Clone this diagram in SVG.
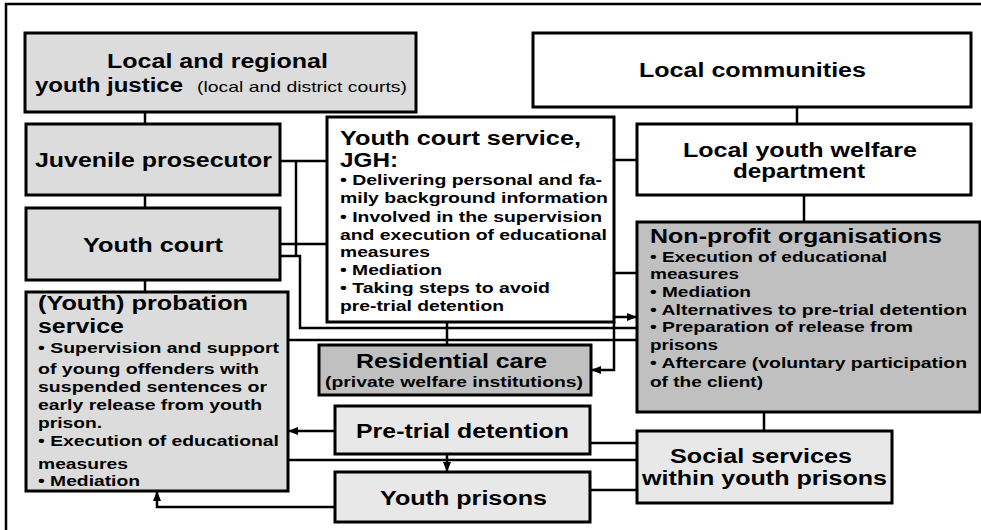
<svg xmlns="http://www.w3.org/2000/svg" width="981" height="530" viewBox="0 0 981 530">
<style>
.box{stroke:#000;stroke-width:3}
.g1{fill:#dcdcdc}
.g2{fill:#e8e8e8}
.g3{fill:#c0c0c0}
.w{fill:#fff}
text{font-family:"Liberation Sans",Arial,sans-serif;font-weight:bold;fill:#000}
.h{font-size:19.5px}
.b{font-size:15px}
.r{font-weight:normal;font-size:14.5px}
.c{fill:none;stroke:#000;stroke-width:2.5}
</style>
<defs>
<marker id="ah" markerUnits="userSpaceOnUse" markerWidth="10" markerHeight="8" refX="9" refY="4" orient="auto">
<path d="M0,0 L10,4 L0,8 z" fill="#000"/>
</marker>
</defs>
<rect x="6" y="4" width="1000" height="600" fill="none" stroke="#000" stroke-width="2.5"/>
<g id="connectors">
<path class="c" d="M145,112 V124"/>
<path class="c" d="M145,195 V208"/>
<path class="c" d="M145,280 V292"/>
<path class="c" d="M797,107 V124"/>
<path class="c" d="M804,195 V222"/>
<path class="c" d="M764,412 V431"/>
<path class="c" d="M280,161 H327"/>
<path class="c" d="M296,161 V256"/>
<path class="c" d="M280,244 H327"/>
<path class="c" d="M280,256 H300 V328 H637"/>
<path class="c" d="M288,340 H637"/>
<path class="c" d="M447,322 V345"/>
<path class="c" d="M614,160 H637"/>
<path class="c" d="M614,273 H637"/>
<path class="c" d="M614,317 H636" marker-end="url(#ah)"/>
<path class="c" d="M614,322 V370 H592" marker-end="url(#ah)"/>
<path class="c" d="M335,431 H289" marker-end="url(#ah)"/>
<path class="c" d="M288,460 H637"/>
<path class="c" d="M590,443 H637"/>
<path class="c" d="M590,490 H637"/>
<path class="c" d="M447,454 V471" marker-end="url(#ah)"/>
<path class="c" d="M335,507 H157 V492" marker-end="url(#ah)"/>
</g>
<g id="regional-justice">
<rect class="box g1" x="25" y="33" width="391" height="79"/>
<text class="h" x="107" y="68" textLength="221" lengthAdjust="spacingAndGlyphs">Local and regional</text>
<text class="h" x="35" y="92" textLength="148" lengthAdjust="spacingAndGlyphs">youth justice</text>
<text class="r" x="197" y="92" textLength="210" lengthAdjust="spacingAndGlyphs">(local and district courts)</text>
</g>
<g id="local-communities">
<rect class="box w" x="533" y="33" width="438" height="74"/>
<text class="h" x="639" y="77" textLength="227" lengthAdjust="spacingAndGlyphs">Local communities</text>
</g>
<g id="juvenile-prosecutor">
<rect class="box g1" x="26" y="124" width="254" height="71"/>
<text class="h" x="35" y="167" textLength="237" lengthAdjust="spacingAndGlyphs">Juvenile prosecutor</text>
</g>
<g id="youth-court">
<rect class="box g1" x="26" y="208" width="254" height="72"/>
<text class="h" x="83" y="252" textLength="140" lengthAdjust="spacingAndGlyphs">Youth court</text>
</g>
<g id="probation-service">
<rect class="box g1" x="26" y="292" width="262" height="199"/>
<text class="h" x="38" y="310" textLength="210" lengthAdjust="spacingAndGlyphs">(Youth) probation</text>
<text class="h" x="38" y="333" textLength="86" lengthAdjust="spacingAndGlyphs">service</text>
<text class="b" x="38" y="353" textLength="241" lengthAdjust="spacingAndGlyphs">• Supervision and support</text>
<text class="b" x="38" y="374" textLength="221" lengthAdjust="spacingAndGlyphs">of young offenders with</text>
<text class="b" x="38" y="392" textLength="229" lengthAdjust="spacingAndGlyphs">suspended sentences or</text>
<text class="b" x="38" y="410" textLength="224" lengthAdjust="spacingAndGlyphs">early release from youth</text>
<text class="b" x="38" y="428" textLength="64" lengthAdjust="spacingAndGlyphs">prison.</text>
<text class="b" x="38" y="446" textLength="241" lengthAdjust="spacingAndGlyphs">• Execution of educational</text>
<text class="b" x="38" y="469" textLength="90" lengthAdjust="spacingAndGlyphs">measures</text>
<text class="b" x="38" y="486" textLength="102" lengthAdjust="spacingAndGlyphs">• Mediation</text>
</g>
<g id="youth-court-service">
<rect class="box w" x="327" y="117" width="287" height="205"/>
<text class="h" x="340" y="145" textLength="241" lengthAdjust="spacingAndGlyphs">Youth court service,</text>
<text class="h" x="340" y="167" textLength="58" lengthAdjust="spacingAndGlyphs">JGH:</text>
<text class="b" x="340" y="185" textLength="262" lengthAdjust="spacingAndGlyphs">• Delivering personal and fa-</text>
<text class="b" x="340" y="203" textLength="268" lengthAdjust="spacingAndGlyphs">mily background information</text>
<text class="b" x="340" y="222" textLength="262" lengthAdjust="spacingAndGlyphs">• Involved in the supervision</text>
<text class="b" x="340" y="240" textLength="267" lengthAdjust="spacingAndGlyphs">and execution of educational</text>
<text class="b" x="340" y="257" textLength="90" lengthAdjust="spacingAndGlyphs">measures</text>
<text class="b" x="340" y="275" textLength="102" lengthAdjust="spacingAndGlyphs">• Mediation</text>
<text class="b" x="340" y="293" textLength="210" lengthAdjust="spacingAndGlyphs">• Taking steps to avoid</text>
<text class="b" x="340" y="311" textLength="164" lengthAdjust="spacingAndGlyphs">pre-trial detention</text>
</g>
<g id="youth-welfare-department">
<rect class="box w" x="637" y="124" width="334" height="71"/>
<text class="h" x="683" y="157" textLength="234" lengthAdjust="spacingAndGlyphs">Local youth welfare</text>
<text class="h" x="733" y="178" textLength="132" lengthAdjust="spacingAndGlyphs">department</text>
</g>
<g id="non-profit-organisations">
<rect class="box g3" x="637" y="222" width="343" height="190"/>
<text class="h" x="650" y="243" textLength="292" lengthAdjust="spacingAndGlyphs">Non-profit organisations</text>
<text class="b" x="650" y="262" textLength="237" lengthAdjust="spacingAndGlyphs">• Execution of educational</text>
<text class="b" x="650" y="279" textLength="89" lengthAdjust="spacingAndGlyphs">measures</text>
<text class="b" x="650" y="297" textLength="101" lengthAdjust="spacingAndGlyphs">• Mediation</text>
<text class="b" x="650" y="315" textLength="317" lengthAdjust="spacingAndGlyphs">• Alternatives to pre-trial detention</text>
<text class="b" x="650" y="332" textLength="263" lengthAdjust="spacingAndGlyphs">• Preparation of release from</text>
<text class="b" x="650" y="350" textLength="68" lengthAdjust="spacingAndGlyphs">prisons</text>
<text class="b" x="650" y="368" textLength="317" lengthAdjust="spacingAndGlyphs">• Aftercare (voluntary participation</text>
<text class="b" x="650" y="387" textLength="113" lengthAdjust="spacingAndGlyphs">of the client)</text>
</g>
<g id="residential-care">
<rect class="box g3" x="319" y="345" width="272" height="50"/>
<text class="h" x="356" y="368" textLength="191" lengthAdjust="spacingAndGlyphs">Residential care</text>
<text class="b" x="325" y="387" textLength="258" lengthAdjust="spacingAndGlyphs">(private welfare institutions)</text>
</g>
<g id="pre-trial-detention">
<rect class="box g2" x="335" y="406" width="255" height="48"/>
<text class="h" x="356" y="438" textLength="213" lengthAdjust="spacingAndGlyphs">Pre-trial detention</text>
</g>
<g id="youth-prisons">
<rect class="box g2" x="335" y="472" width="255" height="50"/>
<text class="h" x="380" y="505" textLength="167" lengthAdjust="spacingAndGlyphs">Youth prisons</text>
</g>
<g id="social-services">
<rect class="box g2" x="637" y="431" width="255" height="72"/>
<text class="h" x="670" y="463" textLength="182" lengthAdjust="spacingAndGlyphs">Social services</text>
<text class="h" x="642" y="485" textLength="245" lengthAdjust="spacingAndGlyphs">within youth prisons</text>
</g>
</svg>
